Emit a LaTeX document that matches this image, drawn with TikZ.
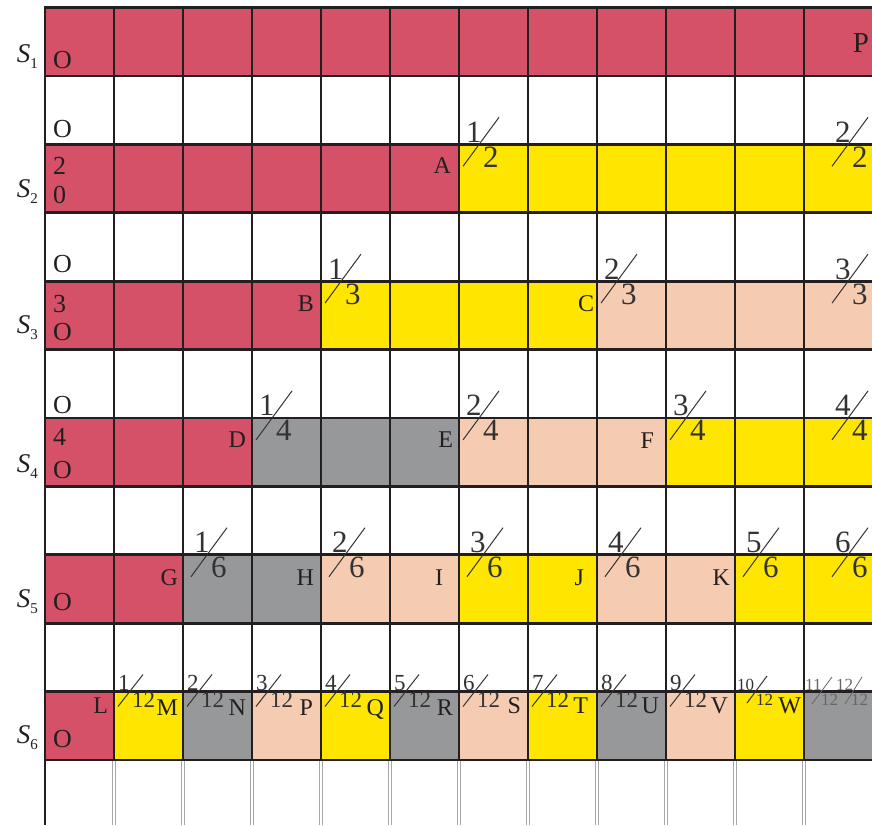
\documentclass[tikz,border=0pt]{standalone}
\usepackage{fontspec}
\setmainfont{Liberation Serif}
\definecolor{crim}{HTML}{D55168}
\definecolor{yel}{HTML}{FFE600}
\definecolor{pch}{HTML}{F5CBB2}
\definecolor{gry}{HTML}{97989A}
\definecolor{ink}{HTML}{231F20}
\definecolor{fink}{HTML}{333333}
\definecolor{lgink}{HTML}{666666}
\tikzset{
 lbl/.style={inner sep=0pt, outer sep=0pt, text=ink, font=\fontsize{24}{24}\selectfont},
 olbl/.style={lbl, anchor=base west, font=\fontsize{26}{26}\selectfont},
 rlbl/.style={lbl, anchor=base east},
 plbl/.style={lbl, anchor=base east, font=\fontsize{29}{29}\selectfont},
 fnum/.style={inner sep=0pt, anchor=base west, text=fink, font=\fontsize{31}{31}\selectfont},
 slash/.style={draw=fink, line width=1pt},
 snum/.style={inner sep=0pt, anchor=base west, text=fink, font=\fontsize{23}{23}\selectfont},
 tnum/.style={inner sep=0pt, anchor=base west, text=fink, font=\fontsize{17}{17}\selectfont},
 gnum/.style={tnum, text=lgink},
 gslash/.style={draw=lgink, line width=0.8pt},
 gridl/.style={draw=ink, line width=2.8pt},
 thinl/.style={draw=gray!70, line width=0.6pt},
 slbl/.style={inner sep=0pt, anchor=base east, text=ink},
}
\newcommand\bigfrac[5]{%
 \node[fnum] (#1n) at ({#2+7},{#3-2}) {#4};
 \node[fnum] (#1d) at ({#2+24},{#3+23}) {#5};
 \draw[slash] ({#2+4},{#3+22}) -- ({#2+40},{#3-27});
}
\newcommand\smfrac[4]{%
 \node[snum] (#1n) at ({#2+4},{#3-1}) {#4};
 \node[snum] (#1d) at ({#2+18},{#3+16}) {12};
 \draw[slash] ({#2+4},{#3+15}) -- ({#2+29},{#3-17});
}
\newcommand\slab[3]{%
 \node[slbl] (s#1) at (38,#2) {{\fontsize{27}{27}\selectfont\itshape S}\raisebox{-6pt}{\fontsize{15}{15}\selectfont #1}};
}
\begin{document}
\begin{tikzpicture}[x=1pt,y=-1pt]
\useasboundingbox (0,0) rectangle (872,825);
% fills
\fill[crim] (45,7.5) rectangle (872,75.9);
\fill[crim] (45,144.3) rectangle (459,212.7);
\fill[yel] (459,144.3) rectangle (872,212.7);
\fill[crim] (45,281.1) rectangle (321,349.5);
\fill[yel] (321,281.1) rectangle (597,349.5);
\fill[pch] (597,281.1) rectangle (872,349.5);
\fill[crim] (45,417.9) rectangle (252,486.3);
\fill[gry] (252,417.9) rectangle (459,486.3);
\fill[pch] (459,417.9) rectangle (666,486.3);
\fill[yel] (666,417.9) rectangle (872,486.3);
\fill[crim] (45,554.7) rectangle (183,623.1);
\fill[gry] (183,554.7) rectangle (321,623.1);
\fill[pch] (321,554.7) rectangle (459,623.1);
\fill[yel] (459,554.7) rectangle (597,623.1);
\fill[pch] (597,554.7) rectangle (735,623.1);
\fill[yel] (735,554.7) rectangle (872,623.1);
\fill[crim] (45,691.5) rectangle (114,759.9);
\fill[yel] (114,691.5) rectangle (183,759.9);
\fill[gry] (183,691.5) rectangle (252,759.9);
\fill[pch] (252,691.5) rectangle (321,759.9);
\fill[yel] (321,691.5) rectangle (390,759.9);
\fill[gry] (390,691.5) rectangle (459,759.9);
\fill[pch] (459,691.5) rectangle (528,759.9);
\fill[yel] (528,691.5) rectangle (597,759.9);
\fill[gry] (597,691.5) rectangle (666,759.9);
\fill[pch] (666,691.5) rectangle (735,759.9);
\fill[yel] (735,691.5) rectangle (804,759.9);
\fill[gry] (804,691.5) rectangle (872,759.9);
% bottom thin lines
\foreach \i in {1,...,11} {
 \draw[thinl] ({45+69*\i-1.3},760) -- ({45+69*\i-1.3},825);
 \draw[thinl] ({45+69*\i+1.3},760) -- ({45+69*\i+1.3},825);
}
% grid
\foreach \j in {0,...,11} \draw[gridl] (43.6,{7.5+68.4*\j}) -- (872,{7.5+68.4*\j});
\foreach \i in {1,...,11} \draw[gridl] ({45+69*\i},6.1) -- ({45+69*\i},761.3);
\draw[gridl] (45,6.1) -- (45,825);
% S labels
\slab{1}{62}{}
\slab{2}{197}{}
\slab{3}{333}{}
\slab{4}{472}{}
\slab{5}{607}{}
\slab{6}{743}{}
% first-column labels
\node[olbl] (o1) at (53,68) {O};
\node[olbl] (o1w) at (53,137) {O};
\node[olbl] (n2) at (53,174) {2};
\node[olbl] (z2) at (53,203) {0};
\node[olbl] (o3w) at (53,272) {O};
\node[olbl] (n3) at (53,312) {3};
\node[olbl] (o3) at (53,340) {O};
\node[olbl] (o4w) at (53,413) {O};
\node[olbl] (n4) at (53,445) {4};
\node[olbl] (o4) at (53,478) {O};
\node[olbl] (o5) at (53,610) {O};
\node[olbl] (o6) at (53,747) {O};
\node[plbl] (ptop) at (869,52) {P};
% letters
\node[rlbl] (A) at (451,173) {A};
\node[rlbl] (B) at (314,311) {B};
\node[rlbl] (C) at (594,311) {C};
\node[rlbl] (D) at (246,447) {D};
\node[rlbl] (E) at (453,447) {E};
\node[rlbl] (F) at (654,448) {F};
\node[rlbl] (G) at (178,585) {G};
\node[rlbl] (H) at (314,585) {H};
\node[rlbl] (I) at (443,585) {I};
\node[rlbl] (J) at (584,585) {J};
\node[rlbl] (K) at (730,585) {K};
\node[rlbl] (L) at (108,713) {L};
\node[rlbl] (M) at (178,715) {M};
\node[rlbl] (N) at (246,715) {N};
\node[rlbl] (P) at (313,715) {P};
\node[rlbl] (Q) at (384,715) {Q};
\node[rlbl] (R) at (453,715) {R};
\node[rlbl] (S) at (521,713) {S};
\node[rlbl] (T) at (588,713) {T};
\node[rlbl] (U) at (659,713) {U};
\node[rlbl] (V) at (728,713) {V};
\node[rlbl] (W) at (801,713) {W};
% fractions
\bigfrac{fa}{459}{144.3}{1}{2}
\bigfrac{fb}{828}{144.3}{2}{2}
\bigfrac{fc}{321}{281.1}{1}{3}
\bigfrac{fd}{597}{281.1}{2}{3}
\bigfrac{fe}{828}{281.1}{3}{3}
\bigfrac{ff}{252}{417.9}{1}{4}
\bigfrac{fg}{459}{417.9}{2}{4}
\bigfrac{fh}{666}{417.9}{3}{4}
\bigfrac{fi}{828}{417.9}{4}{4}
\bigfrac{fj}{187}{554.7}{1}{6}
\bigfrac{fk}{325}{554.7}{2}{6}
\bigfrac{fl}{463}{554.7}{3}{6}
\bigfrac{fm}{601}{554.7}{4}{6}
\bigfrac{fn}{739}{554.7}{5}{6}
\bigfrac{fo}{828}{554.7}{6}{6}
\smfrac{ga}{114}{691.5}{1}
\smfrac{gb}{183}{691.5}{2}
\smfrac{gc}{252}{691.5}{3}
\smfrac{gd}{321}{691.5}{4}
\smfrac{ge}{390}{691.5}{5}
\smfrac{gf}{459}{691.5}{6}
\smfrac{gg}{528}{691.5}{7}
\smfrac{gh}{597}{691.5}{8}
\smfrac{gi}{666}{691.5}{9}
\node[tnum] (hn) at (737,690) {10};
\node[tnum] (hd) at (756,705) {12};
\draw[slash] (747,703) -- (767,676);
\node[gnum] (in) at (805,690) {11};
\node[gnum] (id) at (821,705) {12};
\draw[gslash] (812,704) -- (832,677);
\node[gnum] (jn) at (836,690) {12};
\node[gnum] (jd) at (851,705) {12};
\draw[gslash] (845,704) -- (862,677);
\end{tikzpicture}
\end{document}
